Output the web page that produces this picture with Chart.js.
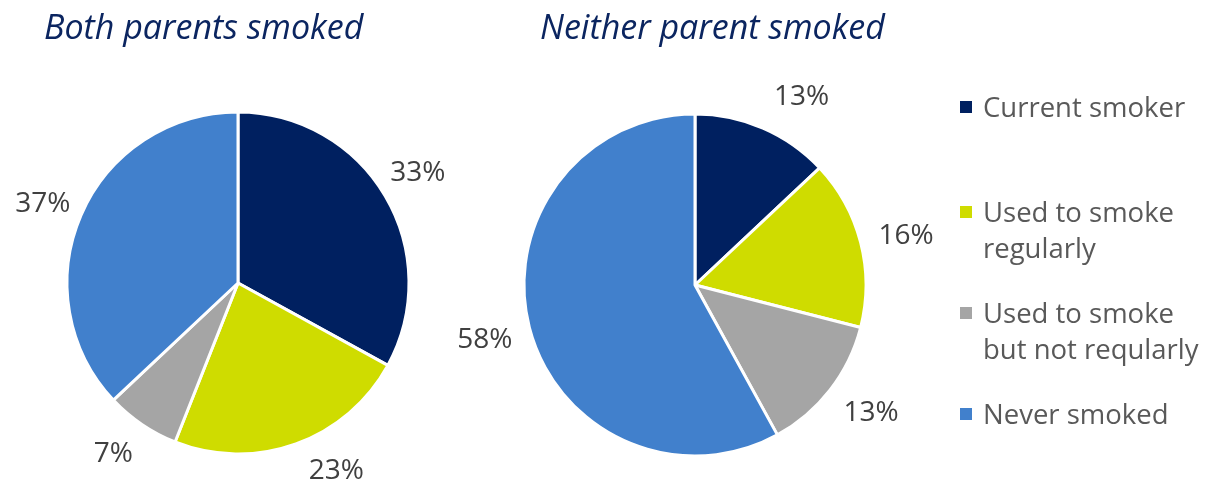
<!DOCTYPE html>
<html>
<head>
<meta charset="utf-8">
<script src="https://cdn.jsdelivr.net/npm/chart.js@4.4.1/dist/chart.umd.min.js"></script>
<style>
  body { margin: 0; background: #fff; font-family: 'Open Sans', sans-serif; }
  #wrap { position: relative; width: 1206px; height: 484px; overflow: hidden; }
  #wrap canvas { position: absolute; left: 0; top: 0; }
  .title { position: absolute; top: 3px; font-style: italic; font-size: 34px; color: #0b2560; white-space: nowrap; }
  #legend { position: absolute; left: 960px; top: 0; color: #595959; font-size: 27.5px; }
  .item { position: absolute; left: 0; white-space: nowrap; line-height: 36px; }
  .item span.box { position: absolute; left: 0; top: 12px; width: 12px; height: 12px; }
  .item div { margin-left: 23px; }
</style>
</head>
<body>
<div id="wrap">
  <canvas id="left" width="1206" height="484"></canvas>
  <canvas id="right" width="1206" height="484"></canvas>
  <div class="title" style="left:44px">Both parents smoked</div>
  <div class="title" style="left:540px">Neither parent smoked</div>
  <div id="legend"></div>
</div>
<script>
const categories = ['Current smoker', 'Used to smoke regularly', 'Used to smoke but not reqularly', 'Never smoked'];
const legendLines = [['Current smoker'], ['Used to smoke', 'regularly'], ['Used to smoke', 'but not reqularly'], ['Never smoked']];
const bothParents = [33, 23, 7, 37];
const neitherParent = [13, 16, 13, 58];
const colors = ['#002060', '#cfdc00', '#a5a5a5', '#4180cc'];

// draw "NN%" outside each slice near its middle angle
// (shift = small per-label angle tweak in degrees, like Excel's best-fit placement)
const outsideLabels = {
  id: 'outsideLabels',
  afterDatasetsDraw(chart, args, opts) {
    const ctx = chart.ctx;
    const meta = chart.getDatasetMeta(0);
    const shift = opts.shift || [];
    ctx.save();
    ctx.font = "28px 'Open Sans', sans-serif";
    ctx.fillStyle = '#404040';
    ctx.textAlign = 'center';
    ctx.textBaseline = 'middle';
    meta.data.forEach((arc, i) => {
      const p = arc.getProps(['x', 'y', 'startAngle', 'endAngle', 'outerRadius'], true);
      const mid = (p.startAngle + p.endAngle) / 2 + (shift[i] || 0) * Math.PI / 180;
      const d = p.outerRadius + (opts.gap || 41);
      ctx.fillText(chart.data.datasets[0].data[i] + '%', p.x + Math.cos(mid) * d, p.y + Math.sin(mid) * d + 1);
    });
    ctx.restore();
  }
};

function makePie(id, values, cx, cy, shift, gap) {
  const size = 345;
  return new Chart(document.getElementById(id), {
    type: 'pie',
    data: {
      labels: categories,
      datasets: [{ data: values, backgroundColor: colors, borderColor: '#ffffff', borderWidth: 3 }]
    },
    options: {
      responsive: false,
      animation: false,
      events: [],
      layout: {
        padding: { left: cx - size / 2, right: 1206 - cx - size / 2, top: cy - size / 2, bottom: 484 - cy - size / 2 }
      },
      plugins: {
        legend: { display: false },
        tooltip: { enabled: false },
        outsideLabels: { shift: shift, gap: gap }
      }
    },
    plugins: [outsideLabels]
  });
}

makePie('left', bothParents, 238, 283, [-1, -8, 2, -1], 40);
makePie('right', neitherParent, 695, 285, [6, 1, -2, 0], 46);

// legend
const legendTops = [89, 194, 295, 396];
const legend = document.getElementById('legend');
categories.forEach((c, i) => {
  const item = document.createElement('div');
  item.className = 'item';
  item.style.top = legendTops[i] + 'px';
  item.innerHTML = '<span class="box" style="background:' + colors[i] + '"></span>' +
    legendLines[i].map(t => '<div>' + t + '</div>').join('');
  legend.appendChild(item);
});
</script>
</body>
</html>
